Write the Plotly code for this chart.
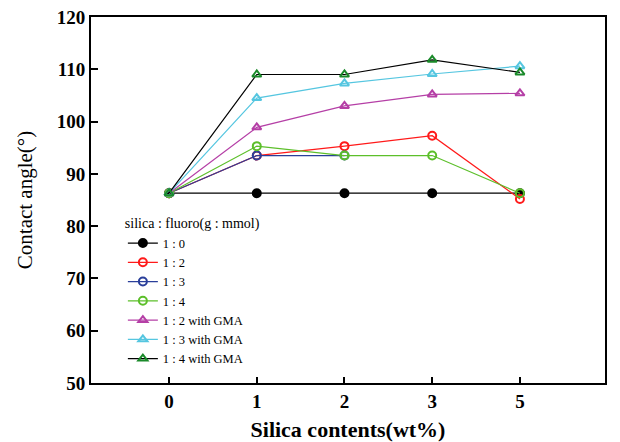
import plotly.graph_objects as go

categories = ["0", "1", "2", "3", "5"]

s_10 = [86.3, 86.3, 86.3, 86.3, 86.3]
s_12 = [86.3, 93.5, 95.3, 97.3, 85.2]
s_13 = [86.3, 93.5, 93.5]
s_14 = [86.3, 95.3, 93.5, 93.5, 86.3]
s_12g = [86.3, 98.9, 103.0, 105.2, 105.4]
s_13g = [86.3, 104.5, 107.3, 109.1, 110.6]
s_14g = [86.3, 109.0, 109.0, 111.8, 109.4]

names = ["1 : 0", "1 : 2", "1 : 3", "1 : 4",
         "1 : 2 with GMA", "1 : 3 with GMA", "1 : 4 with GMA"]

series = [
    (s_10, "#000000", "#000000", "circle"),
    (s_12, "#ff1a1a", "#ff1a1a", "circle-open"),
    (s_13, "#2a3f9a", "#2a3f9a", "circle-open"),
    (s_14, "#5cbf2a", "#5cbf2a", "circle-open"),
    (s_12g, "#b53fa6", "#b53fa6", "triangle-up-open"),
    (s_13g, "#55c6e0", "#55c6e0", "triangle-up-open"),
    (s_14g, "#000000", "#1a8a2a", "triangle-up-open"),
]

fig = go.Figure()
for (vals, lc, mc, sym), nm in zip(series, names):
    fig.add_trace(go.Scatter(
        x=categories[:len(vals)], y=vals, name=nm,
        mode="lines+markers",
        line=dict(color=lc, width=1.2),
        marker=dict(symbol=sym, size=8, color=mc,
                    line=dict(color=mc, width=2)),
    ))

fig.update_layout(
    width=620, height=442,
    margin=dict(l=91, r=15, t=17, b=59, autoexpand=False),
    paper_bgcolor="white", plot_bgcolor="white",
    font=dict(family="Liberation Serif", color="#000000"),
    showlegend=True,
    legend=dict(
        x=0.062, y=0.472, xanchor="left", yanchor="top",
        title=dict(text="silica : fluoro(g : mmol)", font=dict(size=14)),
        font=dict(size=12.5), bgcolor="rgba(0,0,0,0)",
        tracegroupgap=0, itemwidth=30,
    ),
    xaxis=dict(
        type="category", range=[-0.89, 4.97], automargin=False,
        showline=True, linecolor="black", linewidth=2, mirror=True,
        ticks="inside", ticklen=6, tickwidth=2, tickcolor="black",
        showgrid=False, zeroline=False,
        tickfont=dict(size=19, family="Liberation Serif", weight="bold"),
        title=dict(text="Silica contents(wt%)", standoff=16,
                   font=dict(size=22, family="Liberation Serif", weight="bold")),
    ),
    yaxis=dict(
        range=[50, 120], dtick=10, automargin=False,
        showline=True, linecolor="black", linewidth=2, mirror=True,
        ticks="inside", ticklen=7, tickwidth=2, tickcolor="black",
        showgrid=False, zeroline=False,
        tickfont=dict(size=19, family="Liberation Serif", weight="bold"),
        title=dict(text="Contact angle(°)", standoff=18,
                   font=dict(size=21, family="Liberation Serif")),
    ),
)

fig.write_html("out.html")
